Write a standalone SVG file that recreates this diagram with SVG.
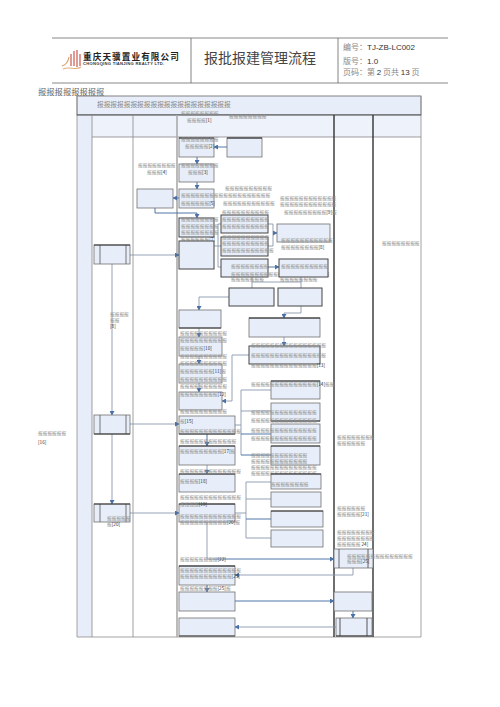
<svg xmlns="http://www.w3.org/2000/svg" width="500" height="707" viewBox="0 0 500 707">
<style>
text{font-family:"Noto Sans CJK SC","Liberation Sans",sans-serif}
.t{font-size:4.7px;fill:#8e8e8e}
.t tspan{fill:#333}
.n{fill:#e8eef9;stroke:#707070;stroke-width:.8}
.k{fill:#e8eef9;stroke:#444;stroke-width:1}
.c{fill:none;stroke:#8a99ad;stroke-width:.9}
.a{fill:none;stroke:#8a99ad;stroke-width:.9;marker-end:url(#m)}
.u{fill:none;stroke:#4f76a8;stroke-width:1;marker-end:url(#m)}
</style>
<defs><marker id="m" markerUnits="userSpaceOnUse" markerWidth="5" markerHeight="5" refX="4" refY="2.5" orient="auto"><path d="M0 0L4.5 2.5L0 5Z" fill="#4a72a8"/></marker></defs>
<rect width="500" height="707" fill="#fff"/>
<g id="header">
<path d="M52 38H448M52 83H448" stroke="#888" stroke-width="1" fill="none"/>
<path d="M191 38V83M338 38V83" stroke="#666" stroke-width=".8" fill="none"/>
<g id="logo" fill="none" stroke-width="1.1">
<path d="M62 66C66 65 68 62 69 57" stroke="#d99a63"/>
<path d="M71 66V54M74 66V51M77 67V50M80 66V54" stroke="#c9483c"/>
<path d="M63 69C70 66 76 71 81 67" stroke="#e0b07c"/>
</g>
<text x="83" y="60" font-size="8.6" font-weight="700" fill="#222" letter-spacing="1.1">重庆天骥置业有限公司</text>
<text x="83" y="65" font-size="4.1" font-weight="700" fill="#333" letter-spacing=".28" style="font-family:'Liberation Sans',sans-serif">CHONGQING TIANJING REALTY LTD.</text>
<text x="204" y="63" font-size="14" fill="#444">报批报建管理流程</text>
<text x="343" y="50" font-size="8" fill="#888">编号：<tspan fill="#333" style="font-family:'Liberation Sans',sans-serif">TJ-ZB-LC002</tspan></text>
<text x="343" y="64" font-size="8" fill="#888">版号：<tspan fill="#333" style="font-family:'Liberation Sans',sans-serif">1.0</tspan></text>
<text x="343" y="75" font-size="8" fill="#888">页码：第 <tspan fill="#333" style="font-family:'Liberation Sans',sans-serif">2</tspan> 页共 <tspan fill="#333" style="font-family:'Liberation Sans',sans-serif">13</tspan> 页</text>
<text x="38" y="95" font-size="8.3" fill="#666">报报报报报报报报</text>
</g>
<g id="table">
<rect x="77" y="96" width="344" height="19" fill="#e8eef9" stroke="#777" stroke-width=".9"/>
<rect x="77" y="115" width="15" height="522" fill="#e8eef9"/>
<rect x="92" y="115" width="329" height="22" fill="#eef2fb"/>
<text x="97" y="107" font-size="6.7" fill="#8a8a8a">报报报报报报报报报报报报报报报报报报报报</text>
<path d="M77 96V637H421V96" fill="none" stroke="#999" stroke-width=".9"/>
<path d="M77 115H421" stroke="#444" stroke-width="1"/>
<path d="M92 137H421" stroke="#777" stroke-width=".7"/>
<path d="M92 115V637M133 115V637" stroke="#888" stroke-width=".8"/>
<path d="M177 115V637" stroke="#aaa" stroke-width="1.6"/>
<path d="M334 115V637M373 115V637" stroke="#333" stroke-width="1.4"/>
<text class="t" x="382" y="245">报报报报报报报报</text>
<text class="t" x="38" y="435">报报报报报报</text>
<text class="t" x="38" y="444"><tspan>[16]</tspan></text>
<text class="t" x="337" y="439">报报报报报报报报</text>
<text class="t" x="337" y="445">报报报报报报</text>
<text class="t" x="337" y="510">报报报报报报</text>
<text class="t" x="337" y="516">报报报报报<tspan>[21]</tspan></text>
<text class="t" x="337" y="534">报报报报报报报报</text>
<text class="t" x="337" y="540">报报报报报报报报</text>
<text class="t" x="337" y="546">报报报报报 <tspan>24]</tspan></text>
</g>
<g id="connectors">
<path class="u" d="M227 147H214"/>
<path class="u" d="M197 157V164"/>
<path class="u" d="M197 182V189"/>
<path class="u" d="M179 198H173"/>
<path class="u" d="M155 208V213H197V218"/>
<path class="a" d="M130 255H179"/>
<path class="c" d="M214 246H221M221 224H218V267H221"/>
<path class="c" d="M268 224H273V246H268"/>
<path class="u" d="M273 233H277"/>
<path class="u" d="M268 267H279"/>
<path class="c" d="M252 277V288M301 277V288M252 282H301"/>
<path class="a" d="M229 297H199V310"/>
<path class="a" d="M301 306V313H284V318"/>
<path class="a" d="M284 337V346"/>
<path class="a" d="M199 328V337"/>
<path class="a" d="M199 356V364"/>
<path class="a" d="M199 383V392"/>
<path class="a" d="M249 355H232V401H222"/>
<path class="c" d="M235 425H241M271 390H241V455"/>
<path class="c" d="M241 411H271"/>
<path d="M241 434H271M241 455H271" fill="none" stroke="#4f76a8"/>
<path class="a" d="M112 264V415"/>
<path class="a" d="M112 434V504"/>
<path class="a" d="M130 424H179"/>
<path class="a" d="M130 513H179"/>
<path class="u" d="M207 434V446"/>
<path class="a" d="M207 465V474"/>
<path class="c" d="M235 513H246M271 482H246V538H271M246 499H271"/>
<path d="M246 519H271" fill="none" stroke="#4f76a8"/>
<path class="c" d="M207 522V559H216"/>
<path class="u" d="M216 559H334"/>
<path class="a" d="M353 568V575H235"/>
<path class="u" d="M207 585V592"/>
<path class="u" d="M235 601H334"/>
<path class="u" d="M353 611V618"/>
<path class="a" d="M336 627H235"/>
</g>
<g id="node-1"><text class="t" x="181" y="115">报报报报报报报报</text><text class="t" x="187" y="122">报报报报<tspan>[1]</tspan></text><text class="t" x="229" y="118">报报报报报报报报</text></g>
<g id="node-2"><rect class="n" x="179" y="138" width="35" height="19"/><path d="M179 138H214" stroke="#222"/><text class="t" x="181" y="141">报报报报报报报报</text><text class="t" x="185" y="148">报报报报报<tspan>[2]</tspan></text></g>
<g id="node-2b"><rect class="n" x="227" y="138" width="35" height="19"/><path d="M227 138H262" stroke="#222"/></g>
<g id="node-3"><rect class="n" x="179" y="164" width="35" height="18"/><text class="t" x="181" y="167">报报报报报报报报</text><text class="t" x="188" y="174">报报报<tspan>[3]</tspan></text></g>
<g id="node-4"><rect class="n" x="137" y="189" width="36" height="19"/><text class="t" x="138" y="167">报报报报报报报报</text><text class="t" x="147" y="174">报报报<tspan>[4]</tspan></text></g>
<g id="node-5"><rect class="n" x="179" y="189" width="35" height="19"/><text class="t" x="225" y="190">报报报报报报报报报报</text><text class="t" x="181" y="197">报报报报报报报报报报报报报报报报报报报</text><text class="t" x="181" y="205">报报报报报报<tspan>[5]</tspan></text><text class="t" x="223" y="205">报报报报报报报报报报报</text></g>
<g id="node-6"><rect class="k" x="179" y="218" width="35" height="19"/><text class="t" x="181" y="221">报报报报报报报报</text><text class="t" x="181" y="228">报报报报报报报报</text><text class="t" x="181" y="234">报报报报报报报报</text><text class="t" x="181" y="241">报报报报报报<tspan>[7]</tspan></text></g>
<g id="node-7"><rect class="k" x="179" y="241" width="35" height="28"/></g>
<g id="node-r1"><rect class="k" x="221" y="215" width="47" height="18"/><text class="t" x="222" y="214">报报报报报报报报报报</text><text class="t" x="222" y="221">报报报报报报报报报报</text><text class="t" x="222" y="228">报报报报报报报报报报</text></g>
<g id="node-r2"><rect class="k" x="221" y="237" width="47" height="19"/><text class="t" x="222" y="239">报报报报报报报报报报</text><text class="t" x="222" y="245">报报报报报报报报报报</text><text class="t" x="222" y="252">报报报报报报报报报报报</text></g>
<g id="node-r3"><rect class="k" x="221" y="259" width="47" height="18"/><text class="t" x="231" y="268">报报报报报报报报</text><text class="t" x="231" y="276">报报报报报报报报报报报报报报报报报报报报报</text><text class="t" x="231" y="281">报报报报报报报</text></g>
<g id="node-8"><rect class="n" x="277" y="224" width="53" height="18"/><text class="t" x="281" y="242">报报报报报报报报报报报</text><text class="t" x="281" y="249">报报报报报报报报<tspan>[8]</tspan></text></g>
<g id="node-9"><text class="t" x="280" y="200">报报报报报报报报报报报报</text><text class="t" x="280" y="206">报报报报报报报报报报报报</text><text class="t" x="284" y="214">报报报报报报报报报<tspan>[9]</tspan>报</text></g>
<g id="node-r4"><rect class="k" x="279" y="259" width="49" height="18"/><text class="t" x="281" y="268">报报报报报报报报报报</text><text class="t" x="280" y="281">报报报报报报报报</text></g>
<g id="node-b1"><rect class="k" x="229" y="288" width="45" height="18"/></g>
<g id="node-b2"><rect class="k" x="278" y="288" width="44" height="18"/></g>
<g id="node-c1"><rect class="n" x="179" y="310" width="42" height="18"/><path d="M179 328H221" stroke="#333"/></g>
<g id="node-10"><rect class="n" x="179" y="337" width="43" height="19"/><text class="t" x="180" y="335">报报报报报报报报报报</text><text class="t" x="180" y="342">报报报报报报报报报报</text><text class="t" x="180" y="350">报报报报报<tspan>[10]</tspan></text></g>
<g id="node-11"><rect class="n" x="179" y="364" width="43" height="19"/><text class="t" x="180" y="358">报报报报报报报报报报</text><text class="t" x="180" y="365">报报报报报报报报报报</text><text class="t" x="180" y="373">报报报报报报报<tspan>[11]</tspan>报</text><text class="t" x="180" y="381">报报报报报报报报报报</text></g>
<g id="node-12"><rect class="n" x="179" y="392" width="43" height="18"/><text class="t" x="180" y="388">报报报报报报报报报报</text><text class="t" x="180" y="396">报报报报报报报报<tspan>[12]</tspan></text><text class="t" x="180" y="413">报报报报报报报报报报</text></g>
<g id="node-c2"><rect class="n" x="249" y="318" width="71" height="19"/><path d="M249 318H320" stroke="#222" stroke-width="1.1"/></g>
<g id="node-13"><rect class="k" x="249" y="346" width="71" height="18"/><text class="t" x="251" y="347">报报报报报报报报报报报报报报报报</text><text class="t" x="251" y="357">报报报报报报报报报报报报报报报报</text><text class="t" x="251" y="367">报报报报报报报报报报报报报报<tspan>[13]</tspan></text></g>
<g id="node-14"><rect class="n" x="271" y="381" width="49" height="18"/><path d="M271 381H320" stroke="#333"/><text class="t" x="251" y="386">报报报报报报报报报报报报报报<tspan>[14]</tspan>报报</text></g>
<g id="node-14b"><rect class="n" x="271" y="403" width="49" height="18"/><path d="M271 421H320" stroke="#333"/><text class="t" x="251" y="414">报报报报报报报报报报报报报报</text><text class="t" x="251" y="422">报报报报报报报报报报报报报报</text></g>
<g id="node-14c"><rect class="n" x="271" y="424" width="49" height="19"/><text class="t" x="251" y="432">报报报报报报报报报报报报报报</text><text class="t" x="251" y="440">报报报报报报报报报报报报报报</text></g>
<g id="node-14d"><rect class="n" x="271" y="446" width="49" height="19"/><path d="M271 446H320" stroke="#333"/><text class="t" x="251" y="457">报报报报报报报报报报报报</text><text class="t" x="251" y="463">报报报报报报报报报报报报</text><text class="t" x="251" y="469">报报报报报报报报报报报报报报</text><text class="t" x="251" y="475">报报报报报报报报报报报报报报</text></g>
<g id="node-15"><rect class="n" x="179" y="416" width="56" height="18"/><path d="M179 434H235" stroke="#333"/><text class="t" x="180" y="423">报<tspan>[15]</tspan></text><text class="t" x="180" y="433">报报报报报报报报报报报报报</text></g>
<g id="node-17"><rect class="n" x="179" y="446" width="56" height="19"/><path d="M179 446H235" stroke="#333"/><text class="t" x="180" y="443">报报报报报报报报报报报报</text><text class="t" x="180" y="453">报报报报报报报报报<tspan>[17]</tspan>报</text></g>
<g id="node-18"><rect class="n" x="179" y="474" width="56" height="18"/><path d="M179 474H235" stroke="#333"/><text class="t" x="180" y="473">报报报报报报报报报报报报报</text><text class="t" x="180" y="483">报报报报<tspan>[18]</tspan></text></g>
<g id="node-19"><rect class="n" x="179" y="504" width="56" height="18"/><path d="M179 504H235" stroke="#222" stroke-width="1.1"/><text class="t" x="180" y="499">报报报报报报报报报报报报报</text><text class="t" x="180" y="506">报报报报<tspan>[19]</tspan></text><text class="t" x="180" y="518">报报报报报报报报报报报报报</text><text class="t" x="180" y="524">报报报报报报报报报报<tspan>[20]</tspan>报</text></g>
<g id="node-e1"><rect class="n" x="271" y="474" width="50" height="15"/><path d="M271 474H321" stroke="#333"/><text class="t" x="271" y="486">报报报报报报报报</text></g>
<g id="node-e2"><rect class="n" x="271" y="492" width="50" height="15"/></g>
<g id="node-e3"><rect class="n" x="271" y="511" width="52" height="16"/><path d="M271 511H323" stroke="#333"/></g>
<g id="node-e4"><rect class="n" x="271" y="530" width="52" height="17"/></g>
<g id="node-22"><text class="t" x="180" y="561">报报报报报报报报<tspan>[22]</tspan></text></g>
<g id="node-23"><rect class="n" x="179" y="566" width="56" height="19"/><path d="M179 566H235" stroke="#222" stroke-width="1.1"/><text class="t" x="180" y="572">报报报报报报报报报报报报报</text><text class="t" x="180" y="578">报报报报报报报报报报报<tspan>[23]</tspan></text><text class="t" x="180" y="590">报报报报报报报报<tspan>[25]</tspan>报</text></g>
<g id="node-f1"><rect class="n" x="179" y="592" width="56" height="19"/></g>
<g id="node-f2"><rect class="n" x="179" y="618" width="56" height="18"/><path d="M179 636H235" stroke="#444" stroke-width="1.2"/></g>
<g id="node-l1"><rect class="n" x="94" y="245" width="36" height="19"/><path d="M100 245V264M126 245V264" stroke="#666" stroke-width=".9"/><path d="M94 245H130" stroke="#333"/></g>
<g id="node-l2"><rect class="n" x="94" y="415" width="36" height="19"/><path d="M100 415V434M126 415V434" stroke="#666" stroke-width=".9"/><path d="M94 434H130" stroke="#333"/></g>
<g id="node-l3"><rect class="n" x="94" y="504" width="36" height="18"/><path d="M100 504V522M126 504V522" stroke="#666" stroke-width=".9"/><path d="M94 504H130" stroke="#333"/><text class="t" x="107" y="520">报报报报报</text><text class="t" x="107" y="526">报<tspan>[20]</tspan></text></g>
<g id="label-8"><text class="t" x="110" y="316">报报报报</text><text class="t" x="110" y="322">报报</text><text class="t" x="110" y="328"><tspan>[8]</tspan></text></g>
<g id="node-25"><rect class="n" x="334" y="549" width="39" height="19"/><path d="M339 549V568M368 549V568" stroke="#555" stroke-width=".9"/><text class="t" x="347" y="558">报报报报报报报报报报报报报报</text><text class="t" x="347" y="563">报报报<tspan>[25]</tspan></text></g>
<g id="node-g1"><rect class="n" x="334" y="592" width="38" height="19"/></g>
<g id="node-g2"><rect class="n" x="336" y="618" width="36" height="18"/><path d="M340 618V636M367 618V636" stroke="#444" stroke-width=".9"/><path d="M336 636H372" stroke="#333" stroke-width="1.2"/></g>
</svg>
